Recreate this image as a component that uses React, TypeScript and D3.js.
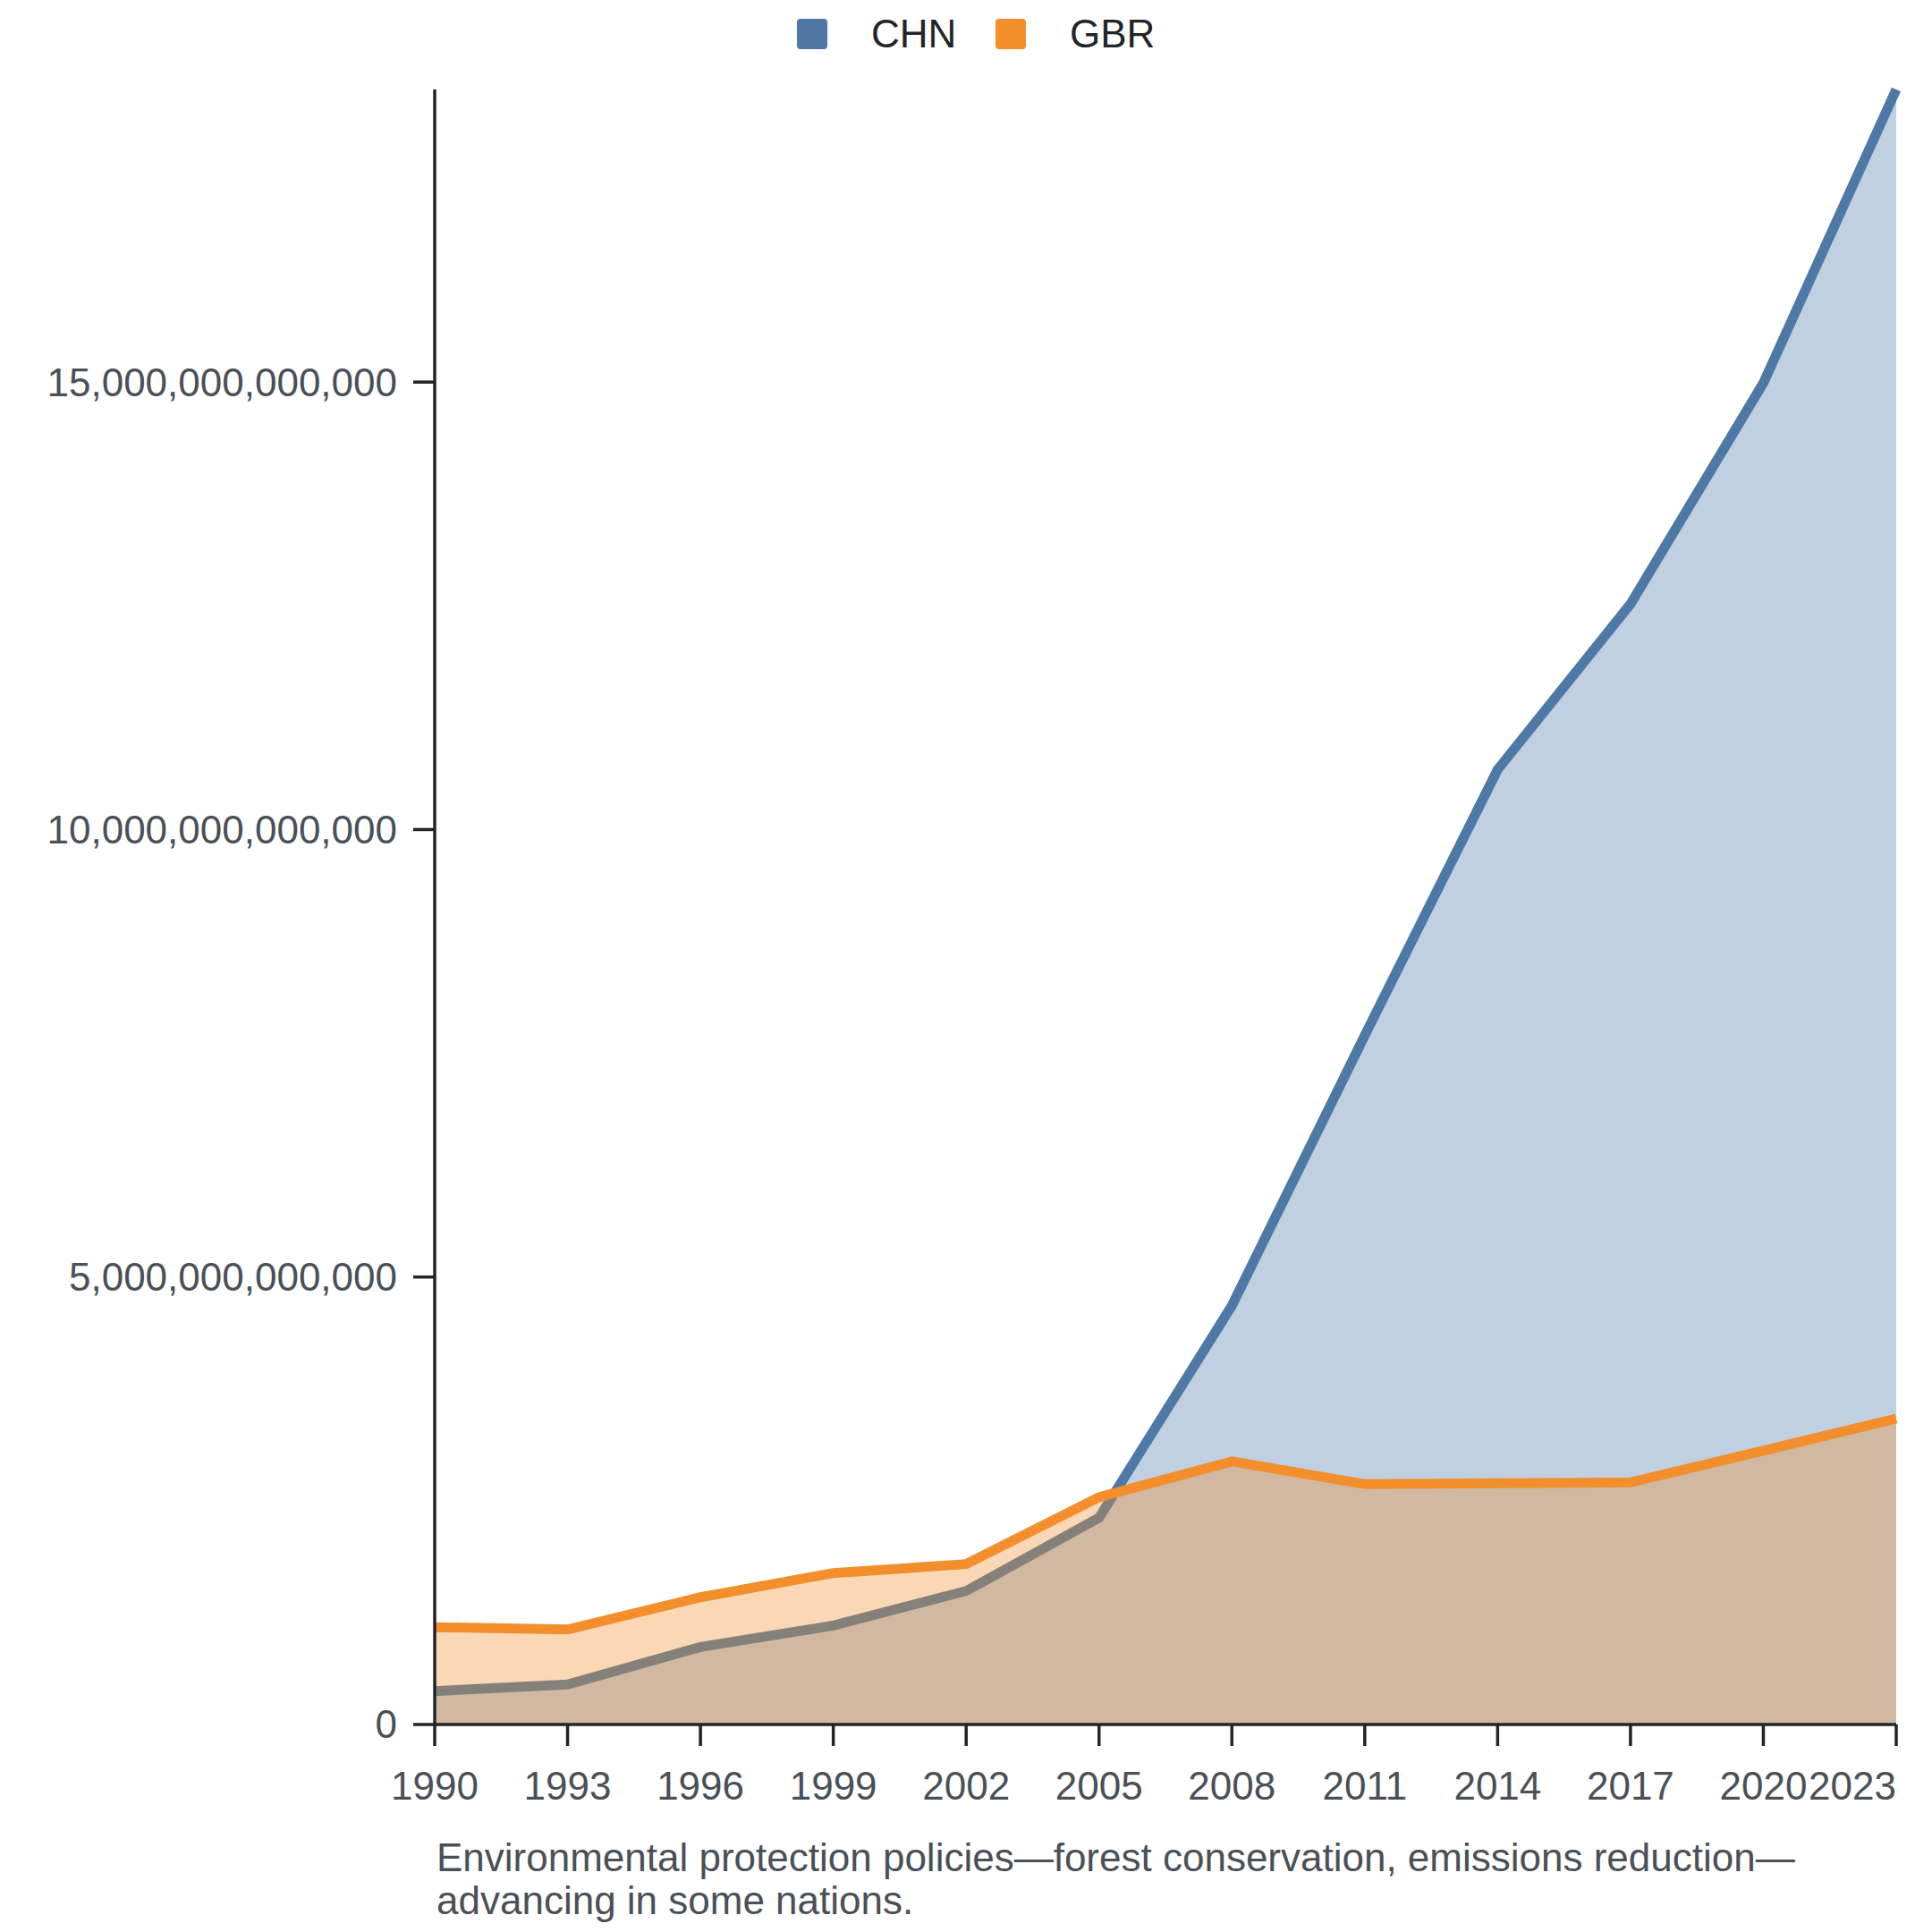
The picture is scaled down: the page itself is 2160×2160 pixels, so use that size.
import React from "react";
import * as d3 from "d3";

const years: number[] = [1990, 1993, 1996, 1999, 2002, 2005, 2008, 2011, 2014, 2017, 2020, 2023];
const chnValues: number[] = [0.373e12, 0.447e12, 0.866e12, 1.106e12, 1.492e12, 2.31e12, 4.68e12, 7.7e12, 10.67e12, 12.52e12, 14.99e12, 18.27e12];
const gbrValues: number[] = [1.087e12, 1.062e12, 1.422e12, 1.692e12, 1.792e12, 2.54e12, 2.94e12, 2.686e12, 2.695e12, 2.705e12, 3.06e12, 3.418e12];
const yTicks: number[] = [0, 5e12, 10e12, 15e12];
const seriesNames: string[] = ["CHN", "GBR"];
const seriesColors: string[] = ["#4e79a7", "#f28e2b"];
const captionLines: string[] = [
  "Environmental protection policies\u2014forest conservation, emissions reduction\u2014",
  "advancing in some nations.",
];

const W = 2160;
const H = 2160;
const left = 486;
const right = 2120;
const top = 100;
const bottom = 1928;
const FONT = "'Liberation Sans', Arial, Helvetica, sans-serif";
const AXIS = "#212529";
const TEXT = "#495057";
const FS = 44;

export default function App() {
  const x = d3.scaleLinear().domain([years[0], years[years.length - 1]]).range([left, right]);
  const y = d3.scaleLinear().domain([0, d3.max(chnValues) as number]).range([bottom, top]);
  const fmt = d3.format(",.0f");

  const series = [chnValues, gbrValues].map((vals) => years.map((yr, i) => ({ yr, v: vals[i] })));
  const area = d3
    .area<{ yr: number; v: number }>()
    .x((d) => x(d.yr))
    .y0(y(0))
    .y1((d) => y(d.v));
  const line = d3
    .line<{ yr: number; v: number }>()
    .x((d) => x(d.yr))
    .y((d) => y(d.v));

  return (
    <svg
      width={W}
      height={H}
      viewBox={`0 0 ${W} ${H}`}
      style={{ position: "absolute", left: 0, top: 0, display: "block", background: "#fff" }}
      fontFamily={FONT}
    >
      {series.map((s, i) => (
        <g key={seriesNames[i]}>
          <path d={area(s) as string} fill={seriesColors[i]} fillOpacity={0.35} stroke="none" />
          <path
            d={line(s) as string}
            fill="none"
            stroke={seriesColors[i]}
            strokeWidth={11}
            strokeLinejoin="miter"
            strokeLinecap="butt"
          />
        </g>
      ))}

      {/* Y axis */}
      <line x1={left} x2={left} y1={top} y2={bottom} stroke={AXIS} strokeWidth={3.5} />
      {yTicks.map((t) => (
        <g key={t}>
          <line x1={left - 24} x2={left} y1={y(t)} y2={y(t)} stroke={AXIS} strokeWidth={3.5} />
          <text x={left - 42} y={y(t)} dy="0.35em" textAnchor="end" fontSize={FS} fill={TEXT}>
            {fmt(t)}
          </text>
        </g>
      ))}

      {/* X axis */}
      <line x1={left} x2={right} y1={bottom} y2={bottom} stroke={AXIS} strokeWidth={3.5} />
      {years.map((yr, i) => (
        <g key={yr}>
          <line x1={x(yr)} x2={x(yr)} y1={bottom} y2={bottom + 24} stroke={AXIS} strokeWidth={3.5} />
          <text
            x={x(yr)}
            y={bottom + 84}
            textAnchor={i === years.length - 1 ? "end" : "middle"}
            fontSize={FS}
            fill={TEXT}
          >
            {yr}
          </text>
        </g>
      ))}

      {/* Legend */}
      {seriesNames.map((n, i) => {
        const lx = [891, 1113][i];
        return (
          <g key={n}>
            <rect x={lx} y={21} width={34} height={34} rx={4} fill={seriesColors[i]} />
            <text x={lx + 83} y={53} fontSize={FS} fill={AXIS}>
              {n}
            </text>
          </g>
        );
      })}

      {/* Caption */}
      {captionLines.map((c, i) => (
        <text key={i} x={488} y={2092 + i * 48} fontSize={FS} fill={TEXT}>
          {c}
        </text>
      ))}
    </svg>
  );
}
